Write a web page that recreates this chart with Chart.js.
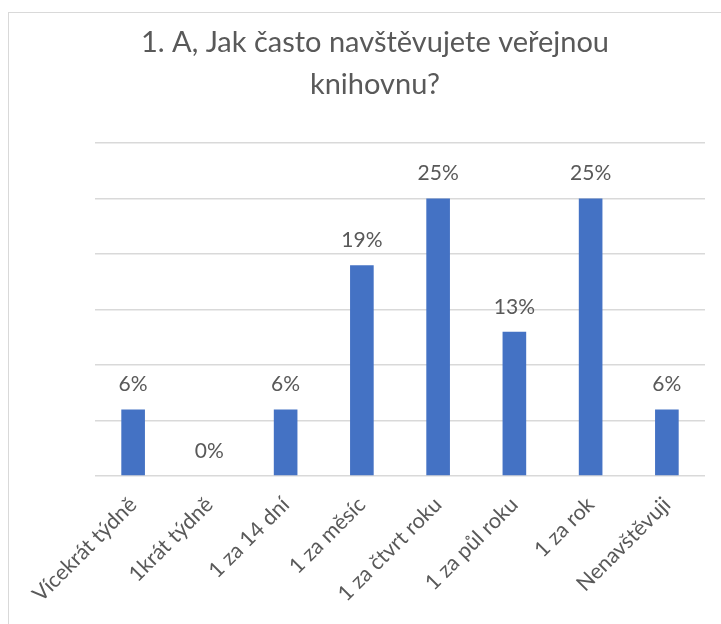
<!DOCTYPE html>
<html>
<head>
<meta charset="utf-8">
<script src="https://cdn.jsdelivr.net/npm/chart.js@4"></script>
<style>
  html, body { margin: 0; padding: 0; background: #fff; overflow: hidden; }
  #frame { position: absolute; left: 8px; top: 12px; width: 800px; height: 700px; border: 1px solid #d9d9d9; }
  #chart { position: absolute; left: 0; top: 0; }
</style>
</head>
<body>
<div id="frame"></div>
<canvas id="chart" width="721" height="624"></canvas>
<script>
const categories = ['Vícekrát týdně', '1krát týdně', '1 za 14 dní', '1 za měsíc', '1 za čtvrt roku', '1 za půl roku', '1 za rok', 'Nenavštěvuji'];
const shares = [6, 0, 6, 19, 25, 13, 25, 6];
const titleLines = ['1. A, Jak často navštěvujete veřejnou', 'knihovnu?'];

const textColor = '#595959';
const fontFamily = 'Lato, "Open Sans", sans-serif';

// Draw the percentage above each bar
const valueLabels = {
    id: 'valueLabels',
    afterDatasetsDraw(chart) {
        const ctx = chart.ctx;
        const meta = chart.getDatasetMeta(0);
        ctx.save();
        ctx.fillStyle = textColor;
        ctx.font = '21px ' + fontFamily;
        ctx.textAlign = 'center';
        ctx.textBaseline = 'middle';
        meta.data.forEach((bar, i) => {
            ctx.fillText(shares[i] + '%', bar.x, bar.y - 25);
        });
        ctx.restore();
    }
};

new Chart(document.getElementById('chart'), {
    type: 'bar',
    data: {
        labels: categories,
        datasets: [{
            data: shares,
            backgroundColor: '#4472c4',
            borderWidth: 0,
            categoryPercentage: 1,
            barPercentage: 0.31
        }]
    },
    options: {
        responsive: false,
        animation: false,
        devicePixelRatio: 1,
        layout: { padding: { left: 45, right: 16, top: 0, bottom: 0 } },
        plugins: {
            legend: { display: false },
            tooltip: { enabled: false },
            title: {
                display: true,
                text: titleLines,
                color: textColor,
                font: { family: fontFamily, size: 29, weight: 'normal', lineHeight: 1.45 },
                padding: { top: 22, bottom: 37 }
            }
        },
        scales: {
            x: {
                grid: { display: false },
                border: { display: false },
                ticks: {
                    color: textColor,
                    font: { family: fontFamily, size: 21.5 },
                    minRotation: 45,
                    maxRotation: 45,
                    autoSkip: false,
                    padding: 8
                },
                afterFit: scale => { scale.height = 148; }
            },
            y: {
                min: 0,
                max: 30,
                ticks: { display: false, stepSize: 5 },
                grid: { color: '#d9d9d9', lineWidth: 1.5, drawTicks: false },
                border: { display: false },
                afterFit: scale => { scale.width = 50; }
            }
        }
    },
    plugins: [valueLabels]
});
</script>
</body>
</html>
